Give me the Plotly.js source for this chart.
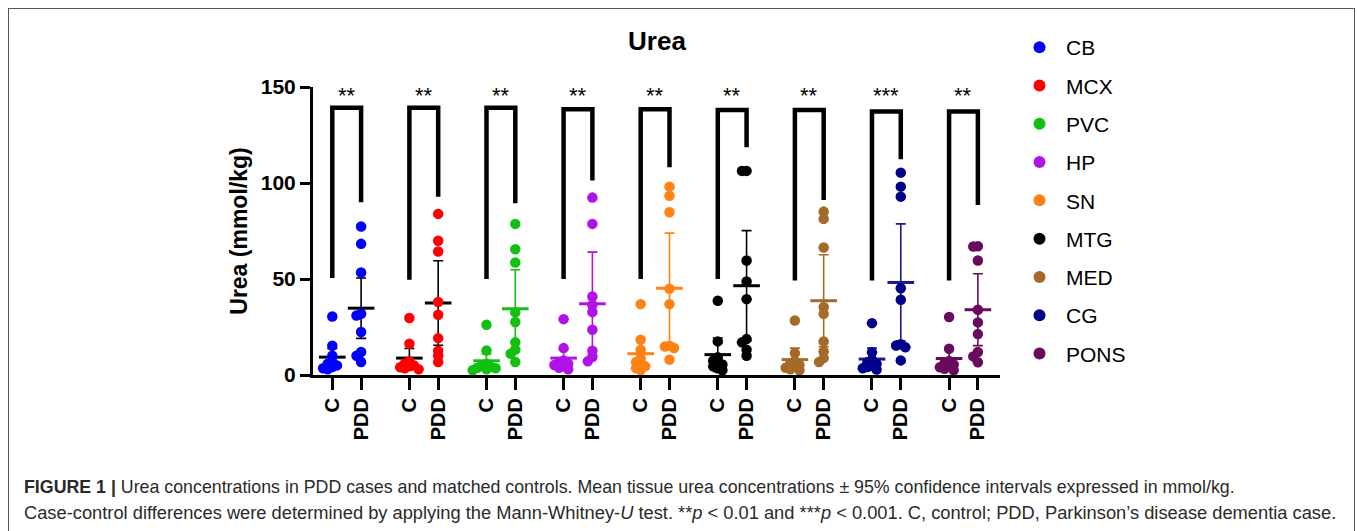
<!DOCTYPE html>
<html>
<head>
<meta charset="utf-8">
<script src="https://cdn.plot.ly/plotly-3.0.1.min.js"></script>
<style>
  html, body { margin: 0; padding: 0; background: #ffffff; }
  #wrap { position: relative; width: 1357px; height: 531px; overflow: hidden; }
  #chart { position: absolute; left: 0; top: 0; width: 1357px; height: 531px; }
  #frame { position: absolute; left: 8px; top: 8px; width: 1345px; height: 560px;
           border: 1.5px solid #555; border-bottom: none; pointer-events: none; }
</style>
</head>
<body>
<div id="wrap">
  <div id="chart"></div>
  <div id="frame"></div>
</div>
<script>
// ---------------- DATA ----------------
const regions = ['CB', 'MCX', 'PVC', 'HP', 'SN', 'MTG', 'MED', 'CG', 'PONS'];
const groupLabels = ['C', 'PDD'];

const cbC   = [30.5, 15.2, 10.0, 6.8, 5.8, 5.0, 4.2, 3.5, 3.0];
const cbPDD = [77.3, 68.3, 53.4, 31.9, 31.0, 22.4, 12.0, 10.0, 6.8];
const mcxC   = [29.7, 16.3, 7.2, 6.0, 5.0, 4.5, 4.0, 3.5, 3.0];
const mcxPDD = [83.9, 69.9, 64.3, 38.0, 31.4, 19.2, 12.6, 10.0, 6.8];
const pvcC   = [26.2, 12.8, 5.8, 4.8, 4.2, 3.8, 3.5, 3.0, 2.5];
const pvcPDD = [78.7, 65.5, 58.6, 32.6, 27.6, 17.0, 13.2, 11.1, 6.8];
const hpC   = [29.1, 14.0, 7.5, 6.3, 5.8, 5.2, 4.5, 3.8, 3.0];
const hpPDD = [92.4, 78.7, 40.9, 36.5, 32.8, 23.6, 12.6, 9.4, 7.1];
const snC   = [36.9, 18.4, 13.2, 8.6, 6.8, 5.5, 4.5, 3.5, 2.5];
const snPDD = [98.1, 93.3, 84.8, 44.9, 36.9, 15.2, 14.8, 14.0, 8.0];
const mtgC   = [38.7, 17.5, 9.2, 7.5, 6.5, 5.5, 4.5, 3.5, 2.5];
const mtgPDD = [106.3, 106.3, 59.6, 48.7, 39.5, 18.7, 17.0, 13.2, 10.0];
const medC   = [28.4, 11.4, 7.2, 6.0, 5.2, 4.5, 3.8, 3.0, 2.5];
const medPDD = [85.1, 81.3, 66.4, 35.4, 31.9, 17.5, 12.3, 8.8, 6.8];
const cgC   = [27.0, 11.8, 8.0, 6.6, 5.8, 5.0, 4.2, 3.5, 2.8];
const cgPDD = [105.4, 98.1, 92.9, 45.2, 39.2, 16.0, 15.4, 14.4, 7.6];
const ponsC   = [30.2, 13.7, 7.3, 6.2, 5.5, 4.8, 4.0, 3.2, 2.5];
const ponsPDD = [67.1, 66.9, 59.6, 34.0, 27.4, 21.3, 12.0, 9.7, 6.6];

// mean and 95% CI half-widths, as drawn in the reference
const meanC   = [9.3, 8.8, 7.4, 8.8, 11.1, 10.6, 8.0, 8.3, 8.6];
const meanPDD = [34.8, 37.5, 34.5, 37.1, 45.2, 46.5, 38.7, 48.2, 34.0];
const ciC     = [4.5, 5.0, 3.5, 4.5, 7.4, 8.7, 6.0, 5.7, 5.1];
const ciPDD   = [15.7, 22.0, 20.3, 26.9, 28.7, 28.7, 23.9, 30.5, 18.7];

// significance brackets
const bracketTop   = [139.2, 139.2, 139.2, 138.4, 138.4, 138.0, 138.0, 137.2, 137.2];
const bracketLeft  = [50.5, 49.6, 50.0, 50.0, 50.0, 50.0, 49.2, 49.2, 49.2];
const bracketRight = [90.0, 92.9, 89.5, 101.3, 108.2, 118.6, 91.2, 112.4, 88.6];
const stars = ['**', '**', '**', '**', '**', '**', '**', '***', '**'];
const starLevel = 145.8;

const yTicks = [0, 50, 100, 150];

// ---------------- STYLE ----------------
const colors    = ['#0000ff', '#ff0000', '#12c012', '#b012e8', '#ff8214', '#000000', '#a36a2a', '#00008a', '#6a0a5c'];
const barColors = ['#000000', '#000000', '#12c012', '#b012e8', '#ff8214', '#000000', '#a36a2a', '#1a1a8a', '#6a0a5c'];

const controls = [cbC, mcxC, pvcC, hpC, snC, mtgC, medC, cgC, ponsC];
const cases    = [cbPDD, mcxPDD, pvcPDD, hpPDD, snPDD, mtgPDD, medPDD, cgPDD, ponsPDD];

const W = 1357, H = 531;
const M = { l: 313, r: 357, t: 87, b: 156 };
const plotW = W - M.l - M.r, plotH = H - M.t - M.b;
const GAP = 2.677;                 // group spacing (in x units; C->PDD = 1)
const xRange = [-0.67, -0.67 + plotW / 28.8];
const yRange = [0, 150];
const pxPerX = plotW / (xRange[1] - xRange[0]);
const pxPerY = plotH / (yRange[1] - yRange[0]);

// simple beeswarm offsets (pixels -> x units)
function swarm(values) {
  const order = values.map((v, i) => i).sort((a, b) => values[b] - values[a]);
  const placed = [];
  const off = new Array(values.length).fill(0);
  const d = 4.6, step = 4.6;
  const cands = [0, -1, 1, -2, 2, -3, 3];
  order.forEach(i => {
    const yp = values[i] * pxPerY;
    let best = 0;
    for (const c of cands) {
      const xp = c * step;
      if (placed.every(p => Math.hypot(p[0] - xp, p[1] - yp) >= d)) { best = xp; break; }
    }
    placed.push([best, yp]);
    off[i] = best / pxPerX;
  });
  return off;
}

const traces = [];
const annotations = [];
const tickVals = [], tickText = [];

regions.forEach((name, i) => {
  const xc = i * GAP, xp = i * GAP + 1;
  tickVals.push(xc, xp);
  tickText.push(groupLabels[0], groupLabels[1]);

  // bracket
  traces.push({
    x: [xc, xc, xp, xp],
    y: [bracketLeft[i], bracketTop[i], bracketTop[i], bracketRight[i]],
    mode: 'lines', line: { color: '#000', width: 4.5 },
    showlegend: false, hoverinfo: 'skip', cliponaxis: false
  });
  annotations.push({
    x: (xc + xp) / 2, y: starLevel, xref: 'x', yref: 'y',
    text: stars[i], showarrow: false,
    font: { family: 'Liberation Sans, Arial, sans-serif', size: 22, color: '#000' }
  });

  // mean +- CI
  traces.push({
    x: [xc, xp], y: [meanC[i], meanPDD[i]],
    mode: 'markers',
    marker: { symbol: 'line-ew', size: 19, line: { width: 3, color: barColors[i] }, color: barColors[i] },
    error_y: { type: 'data', array: [ciC[i], ciPDD[i]], visible: true,
               color: barColors[i], thickness: 1.6, width: 5 },
    showlegend: false, hoverinfo: 'skip', cliponaxis: false
  });

  // points
  const oc = swarm(controls[i]), op = swarm(cases[i]);
  traces.push({
    name: name, legendgroup: name,
    x: controls[i].map((v, k) => xc + oc[k]).concat(cases[i].map((v, k) => xp + op[k])),
    y: controls[i].concat(cases[i]),
    mode: 'markers',
    marker: { color: colors[i], size: 10.5 },
    cliponaxis: false
  });
});

const font = 'Liberation Sans, Arial, Helvetica, sans-serif';

annotations.push({
  xref: 'paper', yref: 'paper',
  x: (22 - M.l) / plotW, y: (H - M.b - 487) / plotH, xanchor: 'left', yanchor: 'middle',
  showarrow: false, align: 'left',
  text: '<b>FIGURE 1 |</b> Urea concentrations in PDD cases and matched controls. Mean tissue urea concentrations ± 95% confidence intervals expressed in mmol/kg.',
  font: { family: font, size: 17.8, color: '#2a2a2a' }
});
annotations.push({
  xref: 'paper', yref: 'paper',
  x: (22 - M.l) / plotW, y: (H - M.b - 512) / plotH, xanchor: 'left', yanchor: 'middle',
  showarrow: false, align: 'left',
  text: 'Case-control differences were determined by applying the Mann-Whitney-<i>U</i> test. **<i>p</i> &lt; 0.01 and ***<i>p</i> &lt; 0.001. C, control; PDD, Parkinson’s disease dementia case.',
  font: { family: font, size: 18.3, color: '#2a2a2a' }
});

const layout = {
  width: W, height: H,
  margin: M,
  paper_bgcolor: '#ffffff', plot_bgcolor: '#ffffff',
  font: { family: font, color: '#000' },
  title: { text: '<b>Urea</b>', x: 657 / W, xref: 'container', xanchor: 'center',
           y: 1 - 41 / H, yref: 'container', yanchor: 'middle',
           font: { family: font, size: 26, color: '#000' } },
  xaxis: {
    range: xRange, showgrid: false, zeroline: false,
    showline: true, linewidth: 3, linecolor: '#000',
    ticks: 'outside', ticklen: 12, tickwidth: 3, tickcolor: '#000',
    tickmode: 'array', tickvals: tickVals, ticktext: tickText, tickangle: -90,
    tickfont: { family: font, size: 20, color: '#000', weight: 'bold' },
    fixedrange: true
  },
  yaxis: {
    range: yRange, showgrid: false, zeroline: false,
    showline: true, linewidth: 3, linecolor: '#000',
    ticks: 'outside', ticklen: 10, tickwidth: 3, tickcolor: '#000',
    tickmode: 'array', tickvals: yTicks, ticktext: yTicks.map(String),
    tickfont: { family: font, size: 21, color: '#000', weight: 'bold' },
    title: { text: '<b>Urea (mmol/kg)</b>', standoff: 7,
             font: { family: font, size: 23, color: '#000' } },
    fixedrange: true
  },
  legend: {
    x: (1013 - M.l) / plotW, xanchor: 'left',
    y: 1 + (M.t - 27) / plotH, yanchor: 'top',
    traceorder: 'grouped', tracegroupgap: 8,
    itemwidth: 43, maxheight: 420,
    font: { family: font, size: 21, color: '#000' },
    bgcolor: 'rgba(0,0,0,0)', itemsizing: 'constant'
  },
  annotations: annotations,
  showlegend: true
};

Plotly.newPlot('chart', traces, layout, { displayModeBar: false, staticPlot: true });
</script>
</body>
</html>
